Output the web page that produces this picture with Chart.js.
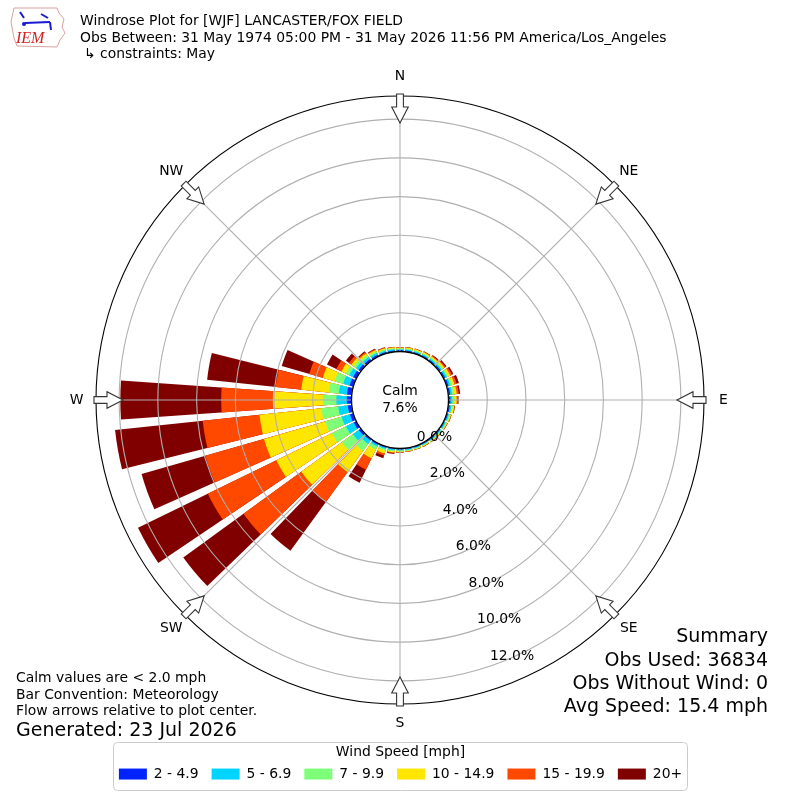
<!DOCTYPE html>
<html><head><meta charset="utf-8">
<script src="https://cdn.jsdelivr.net/npm/chart.js@4.4.1/dist/chart.umd.min.js"></script>
<style>html,body{margin:0;padding:0;background:#fff;}canvas{display:block;}</style>
</head><body>
<canvas id="c" width="800" height="800" style="width:800px;height:800px"></canvas>
<script>
// ---- data (percent of observations, per 10-degree direction bin, starting at N and going clockwise) ----
const directions = [0,10,20,30,40,50,60,70,80,90,100,110,120,130,140,150,160,170,180,190,200,210,220,230,240,250,260,270,280,290,300,310,320,330,340,350];
const speedBins = ['2 - 4.9', '5 - 6.9', '7 - 9.9', '10 - 14.9', '15 - 19.9', '20+'];
const binColors = ['#0022ff', '#00d4ff', '#7dff7a', '#ffe600', '#ff4800', '#800000'];
const speed2to5 = [.06,.06,.06,.07,.07,.08,.09,.10,.10,.10,.08,.07,.06,.06,.06,.05,.05,.05,.05,.05,.06,.07,.08,.12,.15,.18,.20,.24,.25,.20,.18,.14,.12,.10,.08,.07];
const speed5to7 = [.05,.06,.06,.06,.07,.08,.09,.10,.10,.10,.08,.06,.06,.05,.05,.05,.05,.05,.05,.06,.07,.10,.22,.38,.45,.45,.50,.54,.42,.34,.23,.16,.12,.10,.07,.06];
const speed7to10 = [.05,.05,.06,.06,.07,.08,.09,.10,.11,.11,.08,.06,.05,.05,.04,.04,.04,.04,.05,.06,.09,.18,.45,.70,.80,.87,.87,.70,.52,.46,.20,.15,.12,.09,.07,.05];
const speed10to15 = [.04,.05,.05,.06,.07,.09,.11,.12,.13,.11,.07,.05,.04,.03,.03,.03,.03,.03,.04,.05,.14,.50,1.35,2.60,3.20,3.30,3.22,2.58,1.43,.64,.25,.15,.11,.08,.06,.05];
const speed15to20 = [.02,.02,.02,.03,.05,.07,.10,.12,.11,.07,.03,.02,.02,.02,.02,.02,.01,.02,.02,.04,.12,.65,1.90,3.69,3.94,3.16,2.95,2.67,1.33,.73,.29,.15,.08,.05,.03,.02];
const speed20plus = [.01,.01,.01,.02,.04,.06,.08,.12,.07,.03,.01,.01,.01,.01,.01,.01,.01,.01,.01,.04,.14,.75,3.12,3.84,4.01,3.42,4.55,5.21,3.56,1.48,.54,.20,.05,.03,.02,.01];
const compassLabels = ['N','NE','E','SE','S','SW','W','NW'];
const radialTicks = [0, 2, 4, 6, 8, 10, 12];
const calmPct = 7.6;
const rMin = -2.505, rMax = 13.195;

const FONT = '"DejaVu Sans", sans-serif';
const f = (px) => px + 'px ' + FONT;
Chart.defaults.font.family = FONT;
Chart.defaults.color = '#000';

// stacking: cumulative sums per direction
const series = [speed2to5, speed5to7, speed7to10, speed10to15, speed15to20, speed20plus];
const cumulative = [];
series.forEach((s, j) => cumulative.push(s.map((v, d) => v + (j ? cumulative[j-1][d] : 0))));

// arc layout: bars take 80% of each 10-degree sector; N bar split at 0 deg
const barDeg = 8, gapDeg = 2;
const elemAngles = [barDeg/2];
for (let d = 1; d < directions.length; d++) elemAngles.push(gapDeg, barDeg);
elemAngles.push(gapDeg, barDeg/2);
function toElements(cum) {
  const out = [cum[0]];
  for (let d = 1; d < cum.length; d++) out.push(0, cum[d]);
  out.push(0, cum[0]);
  return out;
}

const overlay = {
  id: 'overlay',
  afterDraw(chart) {
    const ctx = chart.ctx, s = chart.scales.r;
    const cx = s.xCenter, cy = s.yCenter;
    const R = s.getDistanceFromCenterForValue(s.max);
    const r0 = s.getDistanceFromCenterForValue(0);
    ctx.save();
    // calm circle
    ctx.beginPath(); ctx.arc(cx, cy, r0, 0, Math.PI*2);
    ctx.fillStyle = '#fff'; ctx.fill();
    ctx.lineWidth = 1.3; ctx.strokeStyle = '#000'; ctx.stroke();
    ctx.fillStyle = '#000'; ctx.font = f(13.9); ctx.textAlign = 'center'; ctx.textBaseline = 'middle';
    ctx.fillText('Calm', cx, cy - 9);
    ctx.fillText(calmPct.toFixed(1) + '%', cx, cy + 8);
    // radial tick labels
    const th = 19.5 * Math.PI / 180;
    radialTicks.forEach(v => {
      const rr = s.getDistanceFromCenterForValue(v);
      ctx.fillText(v.toFixed(1) + '%', cx + rr*Math.sin(th) + 18.3, cy + rr*Math.cos(th) - 8.8);
    });
    // compass arrows + labels
    compassLabels.forEach((lab, i) => {
      const a = s.getIndexAngle(i) - Math.PI/2;
      ctx.save(); ctx.translate(cx, cy); ctx.rotate(a);
      const tip = R - 27, hb = R - 11, tail = R + 2;
      ctx.beginPath();
      ctx.moveTo(tip, 0); ctx.lineTo(hb, 8.3); ctx.lineTo(hb, 3.4); ctx.lineTo(tail, 3.4);
      ctx.lineTo(tail, -3.4); ctx.lineTo(hb, -3.4); ctx.lineTo(hb, -8.3); ctx.closePath();
      ctx.fillStyle = '#fff'; ctx.fill();
      ctx.lineWidth = 1.1; ctx.strokeStyle = '#333'; ctx.stroke();
      ctx.restore();
      const lr = R + 19.5;
      ctx.fillStyle = '#000';
      ctx.fillText(lab, cx + lr*Math.cos(a), cy + lr*Math.sin(a));
    });
    // legend frame
    const lg = chart.legend;
    if (lg && lg.legendHitBoxes && lg.legendHitBoxes.length) {
      const hbx = lg.legendHitBoxes;
      const l = Math.min(...hbx.map(h => h.left)) - 6;
      const r = Math.max(...hbx.map(h => h.left + h.width)) + 5;
      const t = lg.top + 1, b = lg.bottom - 1;
      ctx.beginPath();
      ctx.roundRect(Math.round(l) + 0.5, Math.round(t) + 0.5, Math.round(r - l), Math.round(b - t), 4);
      ctx.lineWidth = 1; ctx.strokeStyle = '#cccccc'; ctx.stroke();
    }
    // header text
    ctx.textAlign = 'left'; ctx.textBaseline = 'alphabetic'; ctx.fillStyle = '#000';
    ctx.font = f(13.9);
    ctx.fillText('Windrose Plot for [WJF] LANCASTER/FOX FIELD', 80, 25);
    ctx.fillText('Obs Between: 31 May 1974 05:00 PM - 31 May 2026 11:56 PM America/Los_Angeles', 80, 41.5);
    ctx.fillText('\u21b3 constraints: May', 84, 58);
    // footer left
    ctx.fillText('Calm values are < 2.0 mph', 16, 682);
    ctx.fillText('Bar Convention: Meteorology', 16, 698.5);
    ctx.fillText('Flow arrows relative to plot center.', 16, 715);
    ctx.font = f(19);
    ctx.fillText('Generated: 23 Jul 2026', 16, 736);
    // summary
    ctx.textAlign = 'right';
    ctx.fillText('Summary', 768, 642);
    ctx.fillText('Obs Used: 36834', 768, 666);
    ctx.fillText('Obs Without Wind: 0', 768, 689);
    ctx.fillText('Avg Speed: 15.4 mph', 768, 712);
    // logo
    ctx.beginPath();
    ctx.moveTo(14,8); ctx.lineTo(57,8); ctx.lineTo(59,13); ctx.lineTo(64,19); ctx.lineTo(62,27);
    ctx.lineTo(65,33); ctx.lineTo(60,40); ctx.lineTo(57,47); ctx.lineTo(17,46); ctx.lineTo(14,38);
    ctx.lineTo(11,22); ctx.closePath();
    ctx.lineWidth = 1; ctx.strokeStyle = '#d9a0a0'; ctx.stroke();
    ctx.strokeStyle = '#1a1ad0'; ctx.lineWidth = 2;
    ctx.beginPath(); ctx.moveTo(25,23); ctx.lineTo(50,22); ctx.stroke();
    ctx.beginPath(); ctx.moveTo(20,12); ctx.lineTo(24,18); ctx.stroke();
    ctx.beginPath(); ctx.moveTo(41,14); ctx.lineTo(48,18); ctx.stroke();
    ctx.beginPath(); ctx.moveTo(50,22); ctx.lineTo(51,30); ctx.stroke();
    ctx.fillStyle = '#1a1ad0'; ctx.beginPath(); ctx.arc(24,24,2,0,Math.PI*2); ctx.fill();
    ctx.fillStyle = '#d42020'; ctx.textAlign = 'left';
    ctx.font = 'italic 16px "Liberation Serif", "DejaVu Serif", serif';
    ctx.fillText('IEM', 16, 43);
    ctx.restore();
  }
};

new Chart(document.getElementById('c'), {
  type: 'polarArea',
  data: {
    labels: compassLabels,
    datasets: speedBins.map((lab, j) => ({
      label: lab,
      data: toElements(cumulative[j]),
      backgroundColor: binColors[j],
      borderWidth: 0,
      angle: (c) => elemAngles[c.dataIndex]
    }))
  },
  options: {
    responsive: false,
    animation: false,
    events: [],
    layout: { padding: { top: 59, left: 96, right: 95, bottom: 9 } },
    scales: {
      r: {
        min: rMin, max: rMax, startAngle: 0,
        ticks: { display: false },
        afterBuildTicks: (sc) => { sc.ticks = radialTicks.concat([rMax]).map(v => ({ value: v })); },
        grid: {
          z: 1, circular: true,
          color: (c) => (c.tick && c.tick.value === rMax) ? '#000' : '#b0b0b0',
          lineWidth: 1.1
        },
        angleLines: { display: true, color: '#b0b0b0', lineWidth: 1.1 },
        pointLabels: { display: false }
      }
    },
    plugins: {
      tooltip: { enabled: false },
      legend: {
        position: 'bottom',
        title: { display: true, text: 'Wind Speed [mph]', font: { size: 13.9, lineHeight: 0.65 }, padding: { top: 4, bottom: 0 } },
        labels: {
          font: { size: 13.9 }, boxWidth: 28, boxHeight: 11, padding: 13, color: '#000',
          generateLabels: () => speedBins.map((t, i) => ({
            text: t, fillStyle: binColors[i], strokeStyle: binColors[i], lineWidth: 0, hidden: false, datasetIndex: i
          }))
        }
      }
    }
  },
  plugins: [overlay]
});
</script>
</body></html>
